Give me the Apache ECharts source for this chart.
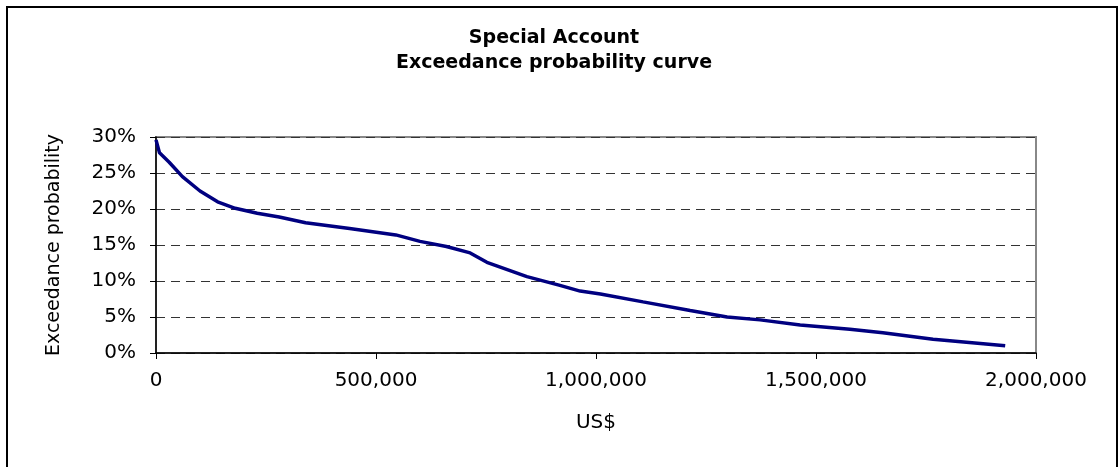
<!DOCTYPE html>
<html>
<head>
<meta charset="utf-8">
<script src="https://cdn.jsdelivr.net/npm/echarts@6/dist/echarts.min.js"></script>
<style>
html,body{margin:0;padding:0;background:#fff;}
#chart{width:1119px;height:467px;}
</style>
</head>
<body>
<div id="chart"></div>
<script>
// Loss amounts (US$)
var lossUSD = [0, 8000, 30000, 60000, 100000, 140000, 180000, 230000, 280000, 340000,
  440000, 545000, 600000, 660000, 714000, 752000, 843000, 918000, 964000, 1010000,
  1107000, 1214000, 1298000, 1373000, 1464000, 1577000, 1652000, 1766000, 1880000, 1930000];
// Exceedance probability (%)
var exceedPct = [29.6, 27.8, 26.5, 24.5, 22.5, 21.0, 20.1, 19.4, 18.9, 18.1,
  17.3, 16.4, 15.5, 14.8, 13.9, 12.6, 10.6, 9.4, 8.6, 8.2,
  7.1, 5.9, 5.0, 4.6, 3.9, 3.3, 2.8, 1.9, 1.3, 1.0];
var titleLines = ['Special Account', 'Exceedance probability curve'];
var xName = 'US$';
var yName = 'Exceedance probability';

var seriesData = lossUSD.map(function (x, i) { return [x, exceedPct[i]]; });
var font = 'DejaVu Sans';

var chart = echarts.init(document.getElementById('chart'));
chart.setOption({
  animation: false,
  backgroundColor: '#fff',
  grid: { left: 156, right: 83, top: 137, bottom: 114, show: true, borderColor: '#888', borderWidth: 2, backgroundColor: 'transparent' },
  graphic: [
    { type: 'rect', shape: { x: 7, y: 7, width: 1110, height: 470 }, style: { fill: 'none', stroke: '#000', lineWidth: 2 }, z: 100 },
    { type: 'text', x: 554, y: 38, style: { text: titleLines[0], font: 'bold 19px "DejaVu Sans"', fill: '#000', textAlign: 'center', textVerticalAlign: 'middle' } },
    { type: 'text', x: 554, y: 63, style: { text: titleLines[1], font: 'bold 19px "DejaVu Sans"', fill: '#000', textAlign: 'center', textVerticalAlign: 'middle' } }
  ],
  xAxis: {
    type: 'value', min: 0, max: 2000000, interval: 500000,
    name: xName, nameLocation: 'middle', nameGap: 60,
    nameTextStyle: { fontFamily: font, fontSize: 20, color: '#000' },
    axisLine: { show: true, lineStyle: { color: '#000', width: 1.5 } },
    axisTick: { show: true, inside: false, length: 6, lineStyle: { color: '#000' } },
    axisLabel: { fontFamily: font, fontSize: 20, color: '#000', margin: 18,
      formatter: function (v) { return v.toString().replace(/\B(?=(\d{3})+(?!\d))/g, ','); } },
    splitLine: { show: false }
  },
  yAxis: {
    type: 'value', min: 0, max: 30, interval: 5,
    name: yName, nameLocation: 'middle', nameGap: 92,
    nameTextStyle: { fontFamily: font, fontSize: 19, color: '#000' },
    axisLine: { show: true, lineStyle: { color: '#000', width: 1.5 } },
    axisTick: { show: true, inside: false, length: 6, lineStyle: { color: '#000' } },
    axisLabel: { fontFamily: font, fontSize: 20, color: '#000', margin: 20, formatter: '{value}%' },
    splitLine: { show: true, lineStyle: { color: '#333', width: 1, type: [9, 6] } }
  },
  series: [{
    type: 'line', data: seriesData, showSymbol: false, smooth: false,
    lineStyle: { color: '#000080', width: 3.5 }, itemStyle: { color: '#000080' }
  }]
});
</script>
</body>
</html>
